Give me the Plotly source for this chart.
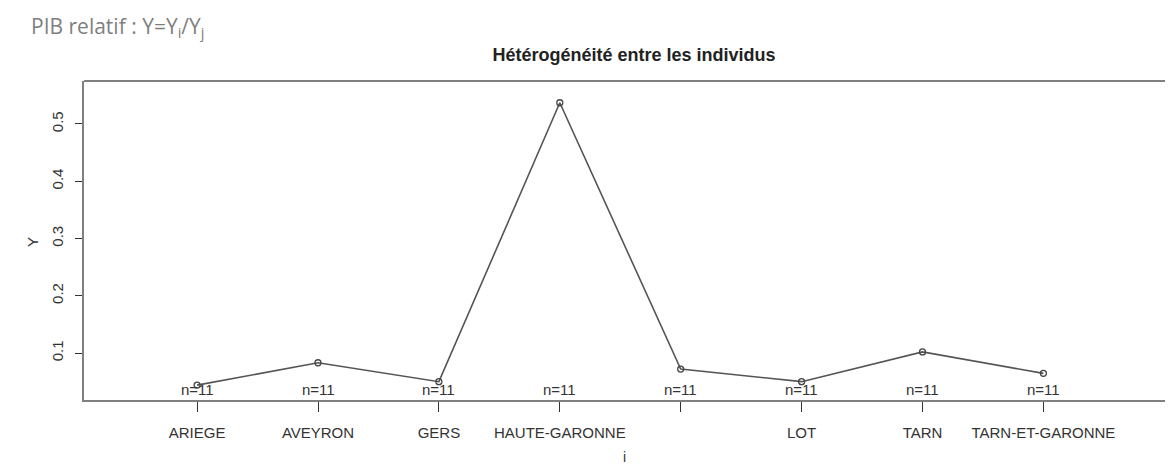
import plotly.graph_objects as go

categories = ["ARIEGE", "AVEYRON", "GERS", "HAUTE-GARONNE", "HAUTES-PYRENEES",
              "LOT", "TARN", "TARN-ET-GARONNE"]
tick_labels = ["ARIEGE", "AVEYRON", "GERS", "HAUTE-GARONNE", "",
               "LOT", "TARN", "TARN-ET-GARONNE"]
y_means = [0.044, 0.083, 0.050, 0.537, 0.072, 0.050, 0.102, 0.0645]
n_obs = [11, 11, 11, 11, 11, 11, 11, 11]
y_ticks = [0.1, 0.2, 0.3, 0.4, 0.5]

x_pos = list(range(1, len(categories) + 1))

# page has an 8px body margin: figure px = screen px - 8
OFF = 8
W, H = 1157, 460
L, R, T = 84 - OFF, 0, 81 - OFF
B = H - (400 - OFF)
pw = W - L - R
ph = H - T - B

def px_x(p):  # screen px -> paper x
    return (p - OFF - L) / pw

def px_y(p):  # screen px -> paper y
    return (H - B - (p - OFF)) / ph

text_col = "#333333"
axis_col = "#808080"
font_fam = "Liberation Sans, Arial, sans-serif"

fig = go.Figure()
fig.add_trace(go.Scatter(
    x=x_pos, y=y_means, mode="lines+markers",
    line=dict(color="#555555", width=1.6),
    marker=dict(symbol="circle-open", size=6, color="#444444", line=dict(width=1.3)),
    customdata=categories,
    hovertemplate="%{customdata}: %{y}<extra></extra>",
    showlegend=False,
))

annotations = []
for xi, n in zip(x_pos, n_obs):
    annotations.append(dict(
        x=xi, xref="x", y=0, yref="paper", yanchor="bottom", yshift=0,
        text=f"n={n}", showarrow=False,
        font=dict(family=font_fam, size=15, color=text_col),
    ))

annotations += [
    dict(x=px_x(32), y=px_y(242), xref="paper", yref="paper", text="Y",
         xanchor="center", yanchor="middle", textangle=-90, showarrow=False,
         font=dict(family=font_fam, size=15, color=text_col)),
    dict(x=px_x(624), y=px_y(467), xref="paper", yref="paper", text="i",
         xanchor="center", yanchor="bottom", showarrow=False,
         font=dict(family=font_fam, size=14, color=text_col)),
    dict(x=px_x(29), y=px_y(27), xref="paper", yref="paper", xanchor="left",
         yanchor="middle", text="PIB relatif : Y=Y<sub>i</sub>/Y<sub>j</sub>",
         showarrow=False, font=dict(family="Open Sans, sans-serif", size=21, color="#7f7f7f")),
]

fig.update_layout(
    width=W, height=H,
    margin=dict(l=L, r=R, t=T, b=B),
    paper_bgcolor="white", plot_bgcolor="white",
    title=dict(text="<b>Hétérogénéité entre les individus</b>",
               x=px_x(634), xref="paper", xanchor="center",
               y=1 - (55 - OFF) / H, yref="container", yanchor="middle",
               font=dict(family=font_fam, size=18, color="#222222")),
    xaxis=dict(
        range=[0.0645, 0.0645 + pw / 120.9],
        tickmode="array", tickvals=x_pos, ticktext=tick_labels,
        showgrid=False, zeroline=False,
        showline=True, linecolor=axis_col, linewidth=2,
        ticks="outside", ticklen=10, tickcolor="#333333", tickwidth=1,
        ticklabelstandoff=8,
        tickfont=dict(family=font_fam, size=15, color=text_col),
    ),
    yaxis=dict(
        range=[0.018, 0.575],
        tickmode="array", tickvals=y_ticks, ticktext=[f"{v:.1f}" for v in y_ticks],
        showgrid=False, zeroline=False,
        showline=True, linecolor=axis_col, linewidth=2,
        ticks="outside", ticklen=7, tickcolor="#333333", tickwidth=1,
        tickangle=-90, ticklabelstandoff=6,
        tickfont=dict(family=font_fam, size=15, color=text_col),
    ),
    shapes=[dict(type="line", xref="paper", yref="paper", x0=0, x1=1, y0=1, y1=1,
                 line=dict(color=axis_col, width=2))],
    annotations=annotations,
)

fig.write_html("out.html")
